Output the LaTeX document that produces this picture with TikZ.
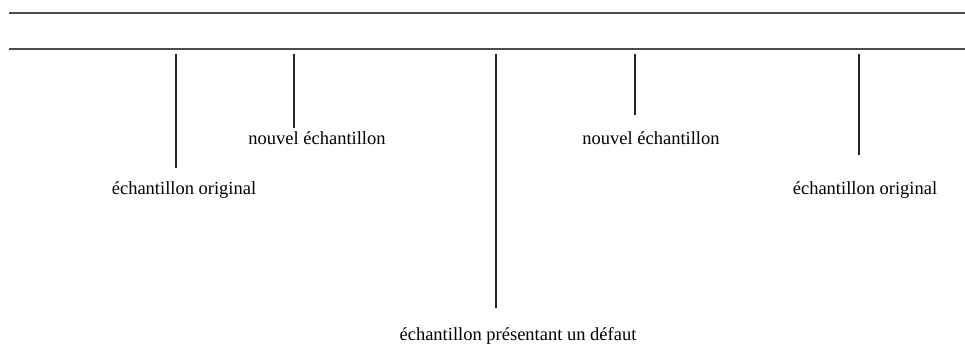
\documentclass[tikz,border=0pt]{standalone}
\usepackage{fontspec}
\setmainfont{Liberation Serif}
\begin{document}
\begin{tikzpicture}[x=1pt, y=-1pt, line width=1.3pt]
            \tikzset{
                rule/.style={draw=black!70},
                tick/.style={draw=black!85},
                lab/.style={inner sep=0pt, anchor=base, font=\fontsize{18.5}{20}\selectfont}
            }
            \useasboundingbox (0, 0) rectangle (965, 344);

            \coordinate (L1) at (9, 13);
            \coordinate (R1) at (965, 13);
            \coordinate (L2) at (9, 49);
            \coordinate (R2) at (965, 49);

            \draw[rule] (L1) -- (R1);
            \draw[rule] (L2) -- (R2);

            \coordinate (A) at (176, 54);
            \coordinate (B) at (294, 54);
            \coordinate (C) at (496, 54);
            \coordinate (D) at (635, 54);
            \coordinate (E) at (859, 54);

            \coordinate (Aend) at (176, 168);
            \coordinate (Bend) at (294, 128);
            \coordinate (Cend) at (496, 308);
            \coordinate (Dend) at (635, 115);
            \coordinate (Eend) at (859, 155);

            \draw[tick] (A) -- (Aend);
            \draw[tick] (B) -- (Bend);
            \draw[tick] (C) -- (Cend);
            \draw[tick] (D) -- (Dend);
            \draw[tick] (E) -- (Eend);

            \node[lab] (orig1) at (184, 195) {échantillon original};
            \node[lab] (neuf1) at (317, 145) {nouvel échantillon};
            \node[lab] (defaut) at (518, 340) {échantillon présentant un défaut};
            \node[lab] (neuf2) at (651, 145) {nouvel échantillon};
            \node[lab] (orig2) at (865, 195) {échantillon original};
        \end{tikzpicture}
\end{document}
